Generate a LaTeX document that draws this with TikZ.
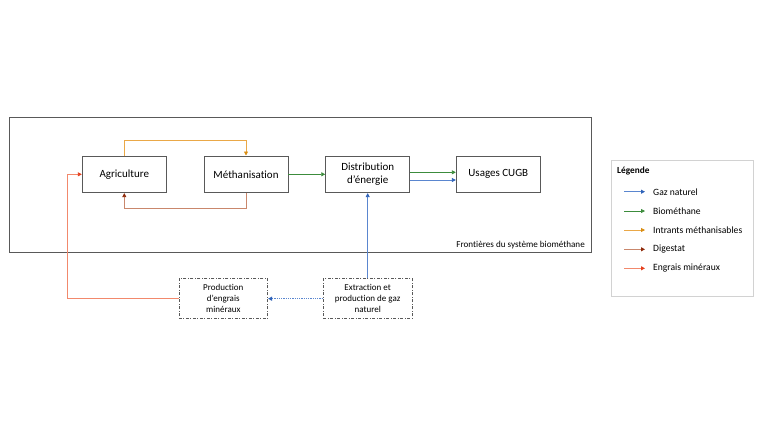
\documentclass[tikz,border=0pt]{standalone}
\usepackage{fontspec}
\setmainfont{Carlito}[Ligatures=NoCommon]
\usetikzlibrary{arrows.meta}
\definecolor{cgaz}{HTML}{5A86CF}
\definecolor{cgazh}{HTML}{2E62B8}
\definecolor{cbio}{HTML}{3C8C3C}
\definecolor{cint}{HTML}{EAA847}
\definecolor{cinth}{HTML}{D98C10}
\definecolor{cdig}{HTML}{C9876C}
\definecolor{cdigh}{HTML}{8E2A0A}
\definecolor{ceng}{HTML}{F2896C}
\definecolor{cengh}{HTML}{E6401E}
\definecolor{cframe}{HTML}{595959}
\tikzset{
  procbox/.style={draw=cframe, line width=0.9pt, fill=white, minimum width=84pt, minimum height=36.7pt, inner sep=2pt, align=center, font=\fontsize{11}{13}\selectfont},
  extbox/.style={draw=cframe, line width=0.8pt, dash pattern=on 3pt off 1.5pt on 1pt off 1.5pt, minimum width=88.7pt, minimum height=40pt, inner sep=2pt, align=center, font=\fontsize{9}{11}\selectfont},
  flow/.style={line width=0.8pt, -{Triangle[length=4pt,width=4pt]}},
  legtxt/.style={anchor=west, font=\fontsize{9.6}{11}\selectfont, inner sep=0pt},
}
\begin{document}
\begin{tikzpicture}[x=1pt,y=-1pt]
\useasboundingbox (0,0) rectangle (760,440);
% frame
\draw[cframe, line width=1.3pt] (9.3,117.3) rectangle (591.5,252.7);
\node[anchor=south east, font=\fontsize{9.1}{10}\selectfont, inner sep=0pt] (frlabel) at (585,249.5) {Frontières du système biométhane};
% process boxes
\node[procbox] (agri) at (124.3,174.3) {Agriculture};
\node[procbox] (meth) at (246,174.3) {Méthanisation};
\node[procbox] (dist) at (367.7,174.3) {Distribution\\d’énergie};
\node[procbox] (usag) at (498.3,174.3) {Usages CUGB};
\node[extbox] (prod) at (223.3,298.7) {Production\\d’engrais\\minéraux};
\node[extbox] (extr) at (367.7,298.7) {Extraction et\\production de gaz\\naturel};
% connectors
\draw[flow, cint, -{Triangle[length=4pt,width=4pt,color=cinth]}] (agri.north) -- ++(0,-15.3) -| (meth.north);
\draw[flow, cdig, -{Triangle[length=4pt,width=4pt,color=cdigh]}] (meth.south) -- ++(0,15.3) -| (agri.south);
\coordinate (ecorner) at (67.7,174.3);
\draw[flow, ceng, -{Triangle[length=4pt,width=4pt,color=cengh]}] (prod.west) -| (ecorner) -- (agri.west);
\draw[flow, cbio] (meth.east) -- (dist.west);
\draw[flow, cbio] ([yshift=2pt]dist.east) -- ([yshift=2pt]usag.west);
\draw[flow, cgaz, -{Triangle[length=4pt,width=4pt,color=cgazh]}] ([yshift=-5.7pt]dist.east) -- ([yshift=-5.7pt]usag.west);
\draw[flow, cgaz, -{Triangle[length=4pt,width=4pt,color=cgazh]}] (extr.north) -- (dist.south);
\draw[flow, cgaz, densely dotted, line width=1pt, -{Triangle[length=4pt,width=4pt,color=cgazh]}] (extr.west) -- (prod.east);
% legend
\draw[gray!35, line width=0.8pt] (611.3,160.7) rectangle (753.3,296);
\node[anchor=west, font=\bfseries\fontsize{9.3}{11}\selectfont, inner sep=0pt] (legtitle) at (617,171.5) {Légende};
\foreach \yy/\col/\head/\lab/\nm in {191.7/cgaz/cgazh/Gaz naturel/la, 211/cbio/cbio/Biométhane/lb, 230/cint/cinth/Intrants méthanisables/lc, 249.3/cdig/cdigh/Digestat/ld, 268.3/ceng/cengh/Engrais minéraux/le}{
  \coordinate (\nm s) at (624,\yy);
  \coordinate (\nm e) at (645,\yy);
  \draw[line width=0.8pt, \col, -{Triangle[length=4pt,width=4pt,color=\head]}] (\nm s) -- (\nm e);
  \node[legtxt] (\nm t) at (653,\yy) {\lab};
}
\end{tikzpicture}
\end{document}
